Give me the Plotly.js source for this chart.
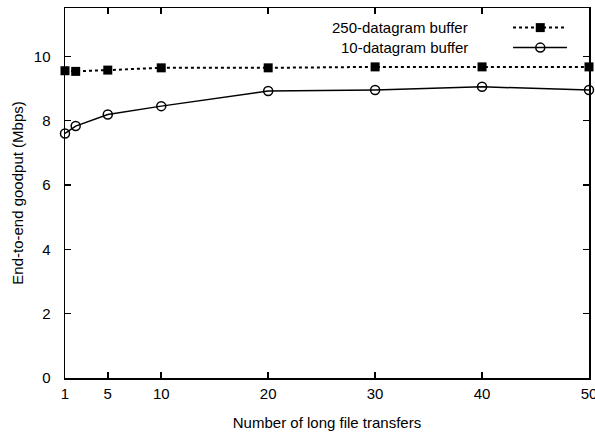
<!DOCTYPE html>
<html>
<head>
<meta charset="utf-8">
<script src="https://cdn.plot.ly/plotly-3.0.1.min.js"></script>
<style>html,body{margin:0;padding:0;background:#fff;}#chart{width:595px;height:436px;}</style>
</head>
<body>
<div id="chart"></div>
<script>
const transfers = [1, 2, 5, 10, 20, 30, 40, 50];
const goodput250 = [9.55, 9.53, 9.57, 9.64, 9.64, 9.67, 9.67, 9.67];
const goodput10 = [7.60, 7.83, 8.19, 8.45, 8.92, 8.95, 9.05, 8.95];
const seriesNames = ['250-datagram buffer', '10-datagram buffer'];
const xTicks = [1, 5, 10, 20, 30, 40, 50];
const yTicks = [0, 2, 4, 6, 8, 10];

const FONT = 'Liberation Sans, Arial, Helvetica, sans-serif';

const traces = [
  {x: transfers, y: goodput250, mode: 'lines+markers', name: seriesNames[0],
   line: {color: '#000', width: 2, dash: 'dot'},
   marker: {symbol: 'square', size: 9, color: '#000'}, cliponaxis: false, showlegend: false},
  {x: transfers, y: goodput10, mode: 'lines+markers', name: seriesNames[1],
   line: {color: '#000', width: 1.5},
   marker: {symbol: 'circle-open', size: 9, color: '#000', line: {width: 1.5}}, cliponaxis: false, showlegend: false},
  // legend keys (on hidden overlay axes)
  {x: [0.855, 0.958], y: [0.947, 0.947], xaxis: 'x2', yaxis: 'y2', mode: 'lines',
   line: {color: '#000', width: 2, dash: 'dot'}, showlegend: false, hoverinfo: 'skip'},
  {x: [0.907], y: [0.947], xaxis: 'x2', yaxis: 'y2', mode: 'markers',
   marker: {symbol: 'square', size: 9, color: '#000'}, showlegend: false, hoverinfo: 'skip'},
  {x: [0.855, 0.958], y: [0.893, 0.893], xaxis: 'x2', yaxis: 'y2', mode: 'lines',
   line: {color: '#000', width: 1.5}, showlegend: false, hoverinfo: 'skip'},
  {x: [0.907], y: [0.893], xaxis: 'x2', yaxis: 'y2', mode: 'markers',
   marker: {symbol: 'circle-open', size: 9, color: '#000', line: {width: 1.5}}, showlegend: false, hoverinfo: 'skip'}
];

const axisCommon = {
  showline: true, linecolor: '#000', linewidth: 1.5, mirror: 'ticks',
  ticks: 'inside', ticklen: 6, tickwidth: 1.5, tickcolor: '#000',
  showgrid: false, zeroline: false, ticklabeloverflow: 'allow',
  tickfont: {family: FONT, size: 15, color: '#000'}
};

const layout = {
  width: 595, height: 436,
  margin: {l: 64.5, r: 6, t: 7.5, b: 57.5},
  paper_bgcolor: '#fff', plot_bgcolor: '#fff',
  font: {family: FONT, size: 15, color: '#000'},
  xaxis: Object.assign({}, axisCommon, {
    range: [1, 50], tickmode: 'array', tickvals: xTicks, ticktext: xTicks.map(String),
    ticklabelstandoff: 1,
    title: {text: 'Number of long file transfers', font: {family: FONT, size: 15, color: '#000'}, standoff: 17}
  }),
  yaxis: Object.assign({}, axisCommon, {
    range: [0, 11.5], tickmode: 'array', tickvals: yTicks, ticktext: yTicks.map(String),
    ticklabelstandoff: 10,
    title: {text: 'End-to-end goodput (Mbps)', font: {family: FONT, size: 15, color: '#000'}, standoff: 6}
  }),
  xaxis2: {overlaying: 'x', range: [0, 1], visible: false, fixedrange: true},
  yaxis2: {overlaying: 'y', range: [0, 1], visible: false, fixedrange: true},
  showlegend: false,
  annotations: [
    {xref: 'paper', yref: 'paper', x: 0.773, y: 0.947, xanchor: 'right', yanchor: 'middle',
     text: seriesNames[0], showarrow: false, font: {family: FONT, size: 15, color: '#000'}},
    {xref: 'paper', yref: 'paper', x: 0.773, y: 0.893, xanchor: 'right', yanchor: 'middle',
     text: seriesNames[1], showarrow: false, font: {family: FONT, size: 15, color: '#000'}}
  ]
};

Plotly.newPlot('chart', traces, layout, {displayModeBar: false, staticPlot: true});
</script>
</body>
</html>
